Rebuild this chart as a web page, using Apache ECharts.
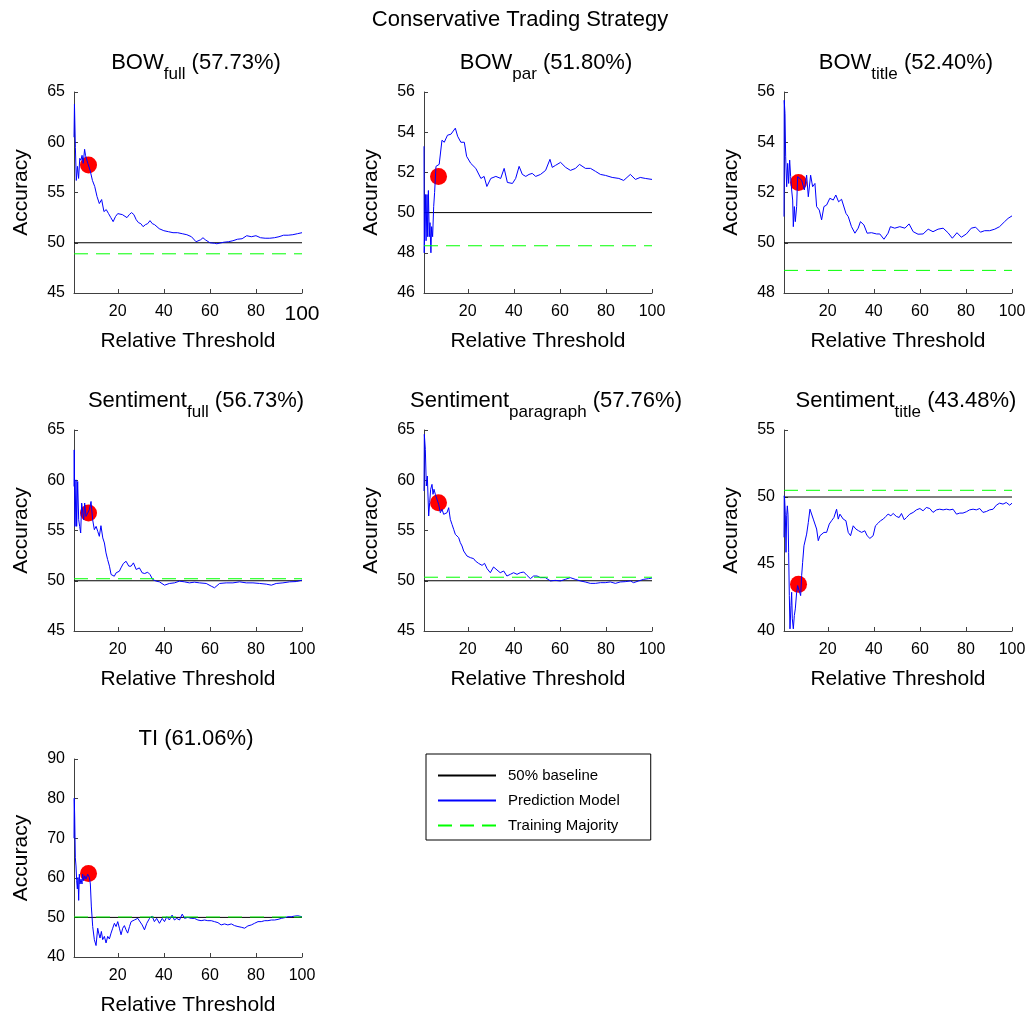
<!DOCTYPE html>
<html>
<head>
<meta charset="utf-8">
<title>Conservative Trading Strategy</title>
<script src="https://cdn.jsdelivr.net/npm/echarts@6.0.0/dist/echarts.min.js"></script>
<style>
  html, body { margin: 0; padding: 0; background: #fff; }
  #chart { width: 1029px; height: 1017px; }
</style>
</head>
<body>
<div id="chart"></div>
<script>
// panel headings and summary numbers
var panelNames = ['BOW', 'BOW', 'BOW', 'Sentiment', 'Sentiment', 'Sentiment', 'TI'];
var panelSubs = ['full', 'par', 'title', 'full', 'paragraph', 'title', ''];
var panelScores = [57.73, 51.80, 52.40, 56.73, 57.76, 43.48, 61.06];
var trainingMajority = [48.9, 48.35, 48.9, 50.2, 50.35, 50.5, 50.1];
var baselineValue = 50;
var chosenThreshold = 7.3;

// axis ranges
var yMin = [45, 46, 48, 45, 45, 40, 40];
var yMax = [65, 56, 56, 65, 65, 55, 90];
var yStep = [5, 2, 2, 5, 5, 5, 10];
var xTicks = [20, 40, 60, 80, 100];

// prediction model accuracy vs relative threshold
var thrBowFull = [1, 1.2, 1.6, 2, 2.5, 3, 3.5, 4, 4.5, 5, 5.6, 6, 7, 8, 9, 10, 11, 12, 13, 14, 15, 16, 17, 18, 19, 20, 22, 24, 25, 26, 27, 28, 29, 30, 31, 32, 33, 34, 35, 36, 38, 40, 42, 44, 46, 48, 50, 52, 54, 56, 57, 58, 60, 62, 63, 64, 66, 68, 70, 72, 74, 76, 78, 80, 82, 84, 86, 88, 90, 92, 94, 96, 98, 100];
var accBowFull = [60.5, 63.8, 59.5, 56.2, 57.6, 56.4, 58.4, 58.2, 58.7, 57.9, 59.3, 58.7, 57.9, 57.2, 56.2, 55.6, 54.6, 53.9, 54.3, 53.1, 53.3, 52.9, 52.5, 52.1, 52.6, 52.9, 52.8, 52.5, 52.8, 53.0, 52.8, 52.3, 52.0, 51.9, 51.6, 51.8, 51.9, 52.2, 51.9, 51.8, 51.4, 51.2, 51.1, 51.0, 51.0, 50.9, 50.8, 50.6, 50.1, 50.3, 50.5, 50.3, 50.0, 49.95, 49.9, 49.95, 50.05, 50.1, 50.2, 50.35, 50.4, 50.7, 50.6, 50.7, 50.5, 50.45, 50.45, 50.5, 50.6, 50.75, 50.75, 50.8, 50.9, 51.0];

var thrBowPar = [1, 1.1, 1.6, 1.9, 2.3, 2.6, 2.9, 3.3, 3.6, 4.0, 4.3, 4.75, 5.2, 5.6, 6.2, 7.6, 8.8, 9.8, 11.2, 12.7, 14.6, 15.6, 17.0, 18.5, 19.5, 21.3, 23.5, 25.7, 27.1, 28.3, 30, 32.2, 34.3, 35.8, 37.2, 39.4, 40.8, 42.3, 43.7, 45.2, 46.6, 48.0, 49.5, 51.6, 53.8, 55.7, 56.7, 58.1, 60.3, 62.5, 64.6, 66.8, 68.5, 71.1, 73.3, 75.5, 77.6, 79.8, 82.7, 85.6, 87.7, 90.6, 92.8, 94.9, 97.1, 100];
var accBowPar = [53.3, 48.0, 50.9, 48.6, 50.9, 48.8, 51.1, 48.8, 49.5, 48.0, 49.3, 48.8, 50.3, 51.0, 52.3, 52.4, 53.6, 53.5, 53.85, 53.9, 54.2, 53.8, 53.5, 53.5, 52.8, 52.45, 52.2, 51.7, 51.8, 51.3, 51.7, 51.8, 51.7, 52.2, 51.5, 51.45, 51.7, 52.3, 51.9, 51.8, 51.9, 51.95, 51.8, 51.9, 52.1, 52.65, 52.25, 52.35, 52.5, 52.25, 52.1, 52.2, 52.4, 52.2, 52.2, 52.05, 51.9, 51.85, 51.75, 51.7, 51.6, 51.9, 51.65, 51.75, 51.7, 51.65];

var thrBowTitle = [1, 1.1, 1.43, 1.72, 2.16, 2.59, 3.02, 3.46, 3.89, 4.32, 4.76, 5.05, 5.48, 5.91, 6.49, 6.92, 7.5, 8.66, 9.82, 10.83, 11.55, 12.56, 13.43, 14.44, 15.16, 16.32, 17.33, 18.34, 19.5, 20.9, 22.4, 23.5, 24.7, 26.0, 26.7, 27.9, 28.9, 30.3, 31.8, 33.2, 34.2, 35.7, 37.1, 39.0, 41.2, 42.6, 44.4, 46.2, 47.2, 49.1, 51.3, 53.5, 55.3, 57.1, 59.2, 61.4, 63.6, 65.7, 67.9, 70.1, 72.2, 74.1, 76.1, 78.0, 80.2, 82.3, 84.2, 86.3, 88.1, 90.3, 92.5, 94.6, 96.8, 98.3, 100];
var accBowTitle = [51.04, 55.67, 55.14, 53.42, 52.23, 53.16, 52.36, 53.29, 52.63, 52.10, 51.70, 50.64, 51.44, 50.84, 51.44, 52.63, 52.69, 52.49, 52.10, 52.69, 51.83, 52.69, 52.23, 52.36, 51.44, 51.30, 50.91, 51.44, 51.50, 51.77, 51.70, 51.90, 51.63, 51.73, 51.70, 51.17, 51.04, 50.64, 50.38, 50.58, 50.84, 50.71, 50.38, 50.40, 50.35, 50.35, 50.14, 50.38, 50.64, 50.58, 50.64, 50.58, 50.75, 50.44, 50.34, 50.35, 50.54, 50.44, 50.54, 50.58, 50.40, 50.18, 50.40, 50.22, 50.35, 50.58, 50.62, 50.42, 50.48, 50.48, 50.54, 50.64, 50.84, 50.97, 51.07];

var thrSentFull = [1, 1.1, 1.43, 1.87, 2.16, 2.59, 3.03, 3.46, 3.9, 4.33, 4.77, 5.2, 5.64, 6.2, 6.94, 7.67, 8.39, 9.1, 9.84, 10.6, 11.3, 12.0, 12.7, 13.5, 14.2, 14.9, 15.6, 16.4, 17.1, 17.8, 18.5, 19.3, 20.0, 20.7, 21.4, 22.4, 23.6, 24.8, 25.8, 26.8, 28.0, 29.4, 30.6, 31.7, 33.0, 34.0, 35.2, 36.7, 38.1, 40.3, 42.4, 44.6, 46.8, 49.0, 51.1, 53.3, 55.5, 58.4, 60.6, 62.0, 64.2, 67.1, 70.0, 72.9, 75.8, 78.7, 81.6, 84.5, 86.7, 88.8, 91.7, 94.6, 97.5, 100];
var accSentFull = [59.38, 63.02, 55.41, 60.04, 55.41, 59.88, 56.07, 55.41, 54.75, 57.73, 57.89, 56.07, 57.73, 56.40, 56.40, 57.07, 57.89, 56.07, 55.08, 55.41, 54.92, 54.42, 55.48, 54.26, 53.76, 52.77, 52.11, 51.45, 50.62, 50.79, 50.45, 50.79, 50.72, 50.95, 51.28, 51.71, 51.94, 51.45, 51.45, 51.78, 51.12, 51.28, 50.79, 50.72, 50.85, 50.62, 50.12, 49.96, 49.89, 49.56, 49.73, 49.79, 49.96, 49.89, 49.79, 49.86, 49.79, 49.73, 49.46, 49.30, 49.73, 49.79, 49.79, 49.89, 49.79, 49.79, 49.73, 49.66, 49.56, 49.73, 49.79, 49.89, 49.92, 50.06];

var thrSentPar = [1, 1.14, 1.58, 2.01, 2.45, 2.74, 3.03, 3.46, 3.89, 4.47, 4.91, 5.34, 5.92, 6.64, 7.37, 8.09, 8.81, 9.54, 10.26, 10.99, 11.71, 12.43, 13.16, 13.88, 14.6, 15.33, 16.05, 16.77, 17.5, 18.22, 18.95, 19.67, 20.39, 21.12, 21.84, 22.56, 23.29, 24.7, 26.2, 27.3, 28.4, 29.8, 31.2, 32.7, 34.1, 35.6, 37.0, 38.5, 39.9, 41.4, 42.8, 44.3, 45.7, 47.2, 48.6, 50.1, 51.5, 53.7, 55.9, 58.0, 60.2, 62.4, 64.5, 66.7, 68.9, 71.0, 73.2, 75.4, 77.6, 79.7, 81.9, 84.1, 86.2, 88.4, 90.6, 92.0, 94.2, 96.4, 98.5, 100];
var accSentPar = [58.93, 64.57, 63.08, 59.43, 60.42, 58.43, 56.44, 57.77, 59.10, 59.59, 58.60, 59.10, 58.60, 58.76, 57.60, 56.77, 57.11, 56.61, 56.44, 56.77, 57.27, 56.11, 55.61, 55.12, 54.62, 54.45, 54.29, 53.79, 53.46, 52.96, 52.79, 52.46, 52.53, 52.30, 52.46, 52.20, 51.97, 51.73, 51.53, 51.73, 51.20, 50.80, 51.37, 51.07, 50.80, 50.97, 50.47, 50.64, 50.80, 50.64, 50.80, 50.87, 50.54, 50.21, 50.47, 50.47, 50.31, 50.31, 49.98, 50.04, 49.98, 50.14, 50.31, 50.14, 49.98, 49.88, 49.74, 49.74, 49.81, 49.81, 49.88, 49.74, 49.88, 49.91, 49.98, 49.81, 49.98, 50.14, 50.21, 50.27];

var thrSentTitle = [1, 1.1, 1.29, 1.58, 1.87, 2.16, 2.45, 2.73, 3.02, 3.31, 3.6, 4.03, 4.32, 4.61, 5.05, 5.48, 5.91, 6.49, 6.92, 7.5, 8.23, 8.66, 9.09, 9.67, 10.25, 10.83, 11.55, 12.27, 12.99, 13.72, 14.44, 15.16, 15.88, 16.61, 17.33, 18.34, 19.5, 20.65, 21.66, 22.68, 23.83, 24.55, 25.28, 26.0, 26.72, 27.88, 28.89, 29.9, 31.06, 32.2, 33.4, 34.7, 36.1, 37.1, 38.3, 39.7, 40.7, 41.9, 42.9, 44.1, 45.2, 46.2, 47.4, 48.4, 49.8, 51.0, 52.0, 53.2, 54.2, 55.6, 57.1, 58.5, 60.0, 61.4, 62.8, 64.3, 65.7, 67.2, 68.6, 70.1, 71.5, 73.0, 74.4, 75.9, 77.3, 78.7, 80.2, 81.6, 83.1, 84.5, 86.0, 87.4, 88.9, 90.3, 91.8, 93.2, 94.6, 96.1, 97.5, 99.0, 100];
var accSentTitle = [46.99, 50.09, 49.84, 48.72, 45.87, 48.60, 49.34, 48.72, 45.87, 42.64, 40.16, 41.90, 42.89, 40.91, 40.16, 41.15, 41.65, 42.89, 43.39, 43.26, 42.64, 44.13, 45.12, 46.36, 46.49, 47.23, 48.10, 49.09, 49.04, 48.35, 48.47, 47.61, 46.74, 47.11, 47.23, 47.36, 47.36, 47.98, 48.23, 48.47, 49.09, 48.35, 48.72, 48.60, 48.35, 48.23, 47.36, 47.11, 47.85, 47.61, 47.48, 47.36, 47.48, 47.11, 46.91, 47.11, 47.85, 48.05, 48.23, 48.35, 48.55, 48.72, 48.60, 48.77, 48.55, 48.47, 48.77, 48.30, 48.47, 48.72, 48.85, 49.04, 49.14, 48.97, 49.22, 49.14, 48.85, 49.04, 49.09, 49.04, 49.09, 49.04, 49.09, 48.72, 48.80, 48.80, 48.90, 49.04, 49.09, 49.04, 49.14, 48.85, 48.92, 49.04, 49.09, 49.39, 49.54, 49.47, 49.59, 49.39, 49.54];

var thrTi = [1, 1.1, 1.29, 1.58, 1.87, 2.16, 2.45, 2.74, 3.03, 3.32, 3.61, 4.04, 4.48, 4.77, 5.2, 5.64, 6.22, 6.94, 7.67, 8.1, 8.54, 9.12, 9.84, 10.57, 11.29, 11.72, 12.3, 12.88, 13.46, 14.19, 14.91, 15.64, 16.36, 17.09, 17.81, 18.54, 19.26, 19.99, 20.71, 21.43, 22.16, 22.88, 23.6, 24.3, 25.1, 25.8, 26.5, 27.2, 28.0, 28.7, 29.4, 30.6, 31.6, 32.6, 33.8, 34.9, 35.9, 36.9, 38.1, 39.3, 40.3, 41.3, 42.4, 43.6, 44.6, 45.6, 46.8, 48.0, 49.0, 50.4, 51.9, 53.3, 54.8, 56.2, 57.7, 59.1, 60.6, 62.0, 63.5, 64.9, 66.4, 67.8, 69.3, 70.7, 72.2, 73.6, 75.1, 76.5, 78.0, 79.4, 80.9, 82.3, 83.8, 85.2, 86.7, 88.1, 89.6, 91.0, 92.4, 93.9, 95.3, 96.8, 98.2, 100];
var accTi = [70.0, 80.08, 75.79, 65.04, 62.98, 59.26, 57.19, 60.08, 54.30, 60.91, 58.43, 59.67, 58.43, 60.91, 59.26, 60.50, 59.67, 60.91, 60.08, 58.43, 52.64, 47.69, 44.38, 42.89, 47.27, 46.03, 44.79, 46.45, 44.38, 45.21, 43.55, 45.21, 44.55, 46.03, 47.27, 48.51, 47.69, 48.93, 47.27, 45.62, 47.27, 47.93, 46.86, 46.03, 47.69, 48.93, 48.51, 49.34, 48.93, 49.75, 49.34, 48.10, 46.86, 48.51, 49.75, 50.33, 48.93, 49.75, 48.51, 49.75, 48.93, 50.17, 49.34, 50.58, 49.34, 49.75, 49.34, 50.83, 49.75, 50.0, 49.75, 49.75, 49.34, 49.17, 49.34, 49.17, 49.17, 48.93, 48.68, 48.10, 48.35, 48.10, 48.35, 47.93, 47.69, 47.52, 47.27, 47.85, 48.10, 48.51, 48.93, 48.93, 49.17, 49.17, 49.34, 49.34, 49.50, 49.75, 49.92, 50.17, 50.17, 50.33, 50.41, 50.17];

var thresholds = [thrBowFull, thrBowPar, thrBowTitle, thrSentFull, thrSentPar, thrSentTitle, thrTi];
var accuracies = [accBowFull, accBowPar, accBowTitle, accSentFull, accSentPar, accSentTitle, accTi];

var fontName = '"Liberation Sans", Arial, Helvetica, sans-serif';
var axisColor = '#404040';

// subplot placement (3 x 3 grid, last cells hold the legend)
var colLeft = [74, 424, 784];
var rowTop = [92, 430, 759];
var plotW = 228;
var plotH = 201;
var titleTop = [42, 380, 728];

var chart = echarts.init(document.getElementById('chart'));

var titles = [{
  text: 'Conservative Trading Strategy',
  left: 520,
  top: 9,
  textAlign: 'center',
  padding: 0,
  textStyle: { fontSize: 22, fontWeight: 'normal', color: '#000', fontFamily: fontName }
}];
var grids = [];
var xAxes = [];
var yAxes = [];
var series = [];

function bigLastTick(v) {
  if (v === 100) return '{big|100}';
  return String(v);
}

for (var i = 0; i < 7; i++) {
  var rowIdx = Math.floor(i / 3);
  var colIdx = i % 3;
  var gLeft = colLeft[colIdx];
  var gTop = rowTop[rowIdx];

  var head = '{m|' + panelNames[i] + '}';
  if (panelSubs[i]) {
    head += '{s|' + panelSubs[i] + '}';
  }
  head += '{m| (' + panelScores[i].toFixed(2) + '%)}';

  titles.push({
    text: head,
    left: gLeft + plotW / 2 + 8,
    top: titleTop[rowIdx],
    textAlign: 'center',
    padding: 0,
    textStyle: {
      fontFamily: fontName,
      fontWeight: 'normal',
      rich: {
        m: { fontSize: 22, fontWeight: 'normal', color: '#000', fontFamily: fontName },
        s: { fontSize: 17, fontWeight: 'normal', color: '#000', fontFamily: fontName, padding: [24, 0, 0, 0] }
      }
    }
  });

  grids.push({ left: gLeft, top: gTop, width: plotW, height: plotH });

  var xLabel = {
    customValues: xTicks,
    margin: 11,
    fontSize: 16,
    color: '#000',
    fontFamily: fontName
  };
  if (i === 0) {
    // first panel prints its last tick larger
    xLabel.formatter = bigLastTick;
    xLabel.rich = { big: { fontSize: 21, color: '#000', fontFamily: fontName } };
  }

  xAxes.push({
    gridIndex: i,
    type: 'value',
    min: 1,
    max: 100,
    axisLine: { show: true, onZero: false, lineStyle: { color: axisColor, width: 1 } },
    axisTick: { show: true, inside: true, length: 4, customValues: xTicks, lineStyle: { color: axisColor } },
    axisLabel: xLabel,
    splitLine: { show: false },
    name: 'Relative Threshold',
    nameLocation: 'middle',
    nameGap: 38,
    nameTextStyle: { fontSize: 21, color: '#000', fontFamily: fontName }
  });

  yAxes.push({
    gridIndex: i,
    type: 'value',
    min: yMin[i],
    max: yMax[i],
    interval: yStep[i],
    axisLine: { show: true, onZero: false, lineStyle: { color: axisColor, width: 1 } },
    axisTick: { show: true, inside: true, length: 4, lineStyle: { color: axisColor } },
    axisLabel: { margin: 9, fontSize: 16, color: '#000', fontFamily: fontName },
    splitLine: { show: false },
    name: 'Accuracy',
    nameLocation: 'middle',
    nameGap: 42,
    nameTextStyle: { fontSize: 21, color: '#000', fontFamily: fontName }
  });

  var pts = [];
  for (var k = 0; k < thresholds[i].length; k++) {
    pts.push([thresholds[i][k], accuracies[i][k]]);
  }

  series.push({
    name: '50% baseline',
    type: 'line',
    xAxisIndex: i,
    yAxisIndex: i,
    data: [[1, baselineValue], [100, baselineValue]],
    symbol: 'none',
    silent: true,
    lineStyle: { color: '#000', width: 1 },
    itemStyle: { color: '#000' }
  });
  series.push({
    name: 'Prediction Model',
    type: 'line',
    xAxisIndex: i,
    yAxisIndex: i,
    data: pts,
    symbol: 'none',
    silent: true,
    lineStyle: { color: '#0000ff', width: 1 },
    itemStyle: { color: '#0000ff' }
  });
  series.push({
    name: 'Training Majority',
    type: 'line',
    xAxisIndex: i,
    yAxisIndex: i,
    data: [[1, trainingMajority[i]], [100, trainingMajority[i]]],
    symbol: 'none',
    silent: true,
    lineStyle: { color: '#00ff00', width: 1, type: [14, 8] },
    itemStyle: { color: '#00ff00' }
  });
  series.push({
    name: 'chosen',
    type: 'scatter',
    xAxisIndex: i,
    yAxisIndex: i,
    data: [[chosenThreshold, panelScores[i]]],
    symbol: 'circle',
    symbolSize: 17,
    silent: true,
    itemStyle: { color: '#ff0000', opacity: 1 }
  });
}

var option = {
  animation: false,
  backgroundColor: '#fff',
  textStyle: { fontFamily: fontName },
  title: titles,
  legend: {
    data: ['50% baseline', 'Prediction Model', 'Training Majority'],
    orient: 'vertical',
    left: 426,
    top: 754,
    padding: [14, 31, 7, 11],
    itemWidth: 58,
    itemHeight: 18,
    itemGap: 10,
    borderColor: '#000',
    borderWidth: 1,
    backgroundColor: '#fff',
    selectedMode: false,
    itemStyle: { opacity: 0 },
    textStyle: { fontSize: 15, color: '#000', fontFamily: fontName, padding: [0, 0, 0, 7] }
  },
  grid: grids,
  xAxis: xAxes,
  yAxis: yAxes,
  series: series
};

chart.setOption(option);
</script>
</body>
</html>
